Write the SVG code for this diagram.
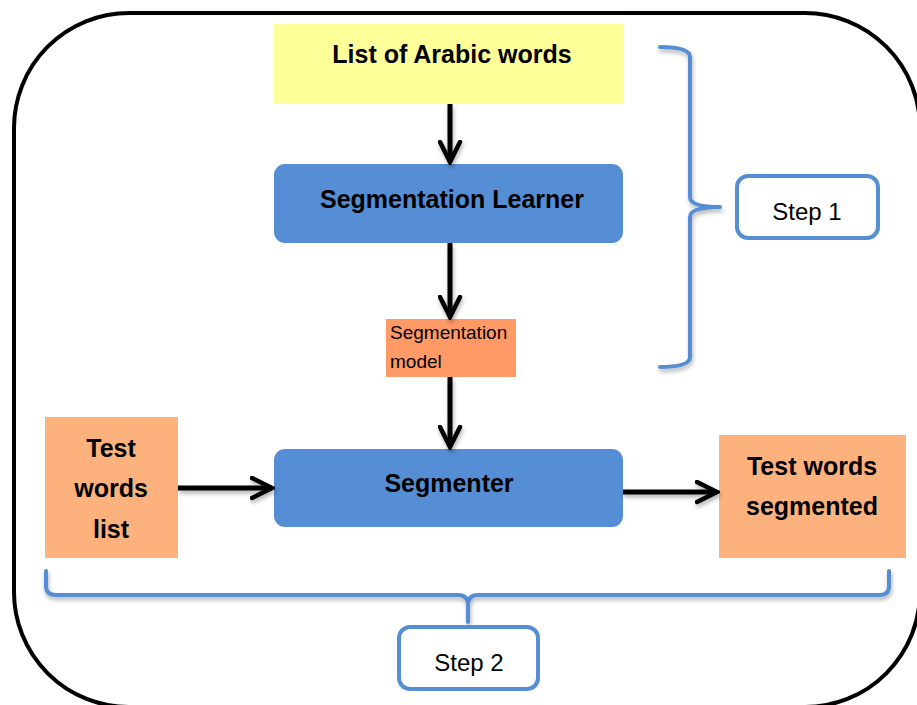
<svg xmlns="http://www.w3.org/2000/svg" width="917" height="705" viewBox="0 0 917 705">
<style>
.b{font-family:"Liberation Sans",Arial,sans-serif;font-weight:bold;font-size:25px;fill:#000}
.r{font-family:"Liberation Sans",Arial,sans-serif;font-size:19px;fill:#000}
.s{font-family:"Liberation Sans",Arial,sans-serif;font-size:24px;fill:#000}
.blue{fill:#558ED5}
.conn{stroke:#000;stroke-width:5;fill:none}
.brace{stroke:#558ED5;stroke-width:4;fill:none;stroke-linecap:round;stroke-linejoin:round}
.stepbox{fill:#fff;stroke:#558ED5;stroke-width:4}
</style>
<defs>
<filter id="sh" x="-20%" y="-20%" width="140%" height="140%">
<feDropShadow dx="1" dy="3" stdDeviation="2" flood-color="#000" flood-opacity="0.3"/>
</filter>
<marker id="ah" viewBox="0 0 10 10" refX="9" refY="5" markerWidth="5" markerHeight="5" markerUnits="strokeWidth" orient="auto">
<path d="M1,1 L9,5 L1,9" fill="none" stroke="#000" stroke-width="1.8" stroke-linecap="round" stroke-linejoin="miter"/>
</marker>
</defs>
<rect id="frame" x="14" y="13" width="906" height="694" rx="115" ry="115" fill="#fff" stroke="#000" stroke-width="4"/>
<g id="n_list">
<rect x="274" y="24" width="350" height="80" fill="#FFFF99"/>
<text class="b" x="452" y="63" text-anchor="middle">List of Arabic words</text>
</g>
<g id="n_learner">
<rect class="blue" x="274" y="164" width="349" height="79" rx="11"/>
<text class="b" x="452" y="208" text-anchor="middle">Segmentation Learner</text>
</g>
<g id="n_model">
<rect x="386" y="319" width="130" height="58" fill="#FF9966"/>
<text class="r" x="390" y="339">Segmentation</text>
<text class="r" x="390" y="368">model</text>
</g>
<g id="n_segmenter">
<rect class="blue" x="274" y="449" width="349" height="78" rx="11"/>
<text class="b" x="449" y="492" text-anchor="middle">Segmenter</text>
</g>
<g id="n_test">
<rect x="45" y="417" width="133" height="141" fill="#FDB27E"/>
<text class="b" x="111" y="457" text-anchor="middle">Test</text>
<text class="b" x="111" y="497" text-anchor="middle">words</text>
<text class="b" x="111" y="538" text-anchor="middle">list</text>
</g>
<g id="n_out">
<rect x="719" y="435" width="187" height="123" fill="#FDB27E"/>
<text class="b" x="812" y="475" text-anchor="middle">Test words</text>
<text class="b" x="812" y="515" text-anchor="middle">segmented</text>
</g>
<g id="n_step1">
<path class="brace" filter="url(#sh)" d="M660,47 Q690,47 690,57 L690,197 Q690,207 720,207 Q690,207 690,217 L690,357 Q690,367 660,367"/>
<rect class="stepbox" x="737" y="176" width="141" height="62" rx="11"/>
<text class="s" x="807" y="220" text-anchor="middle">Step 1</text>
</g>
<g id="n_step2">
<path class="brace" filter="url(#sh)" d="M46,571 L46,586 Q46,595 56,595 L458,595 Q468,595 468,605 L468,622 M468,605 Q468,595 478,595 L880,595 Q889,595 889,586 L889,571"/>
<rect class="stepbox" x="399" y="627" width="139" height="62" rx="11"/>
<text class="s" x="469" y="671" text-anchor="middle">Step 2</text>
</g>
<g id="connectors" filter="url(#sh)">
<line class="conn" x1="450" y1="104" x2="450" y2="162" marker-end="url(#ah)"/>
<line class="conn" x1="450" y1="243" x2="450" y2="317" marker-end="url(#ah)"/>
<line class="conn" x1="450" y1="377" x2="450" y2="447" marker-end="url(#ah)"/>
<line class="conn" x1="178" y1="488" x2="272" y2="488" marker-end="url(#ah)"/>
<line class="conn" x1="623" y1="492" x2="717" y2="492" marker-end="url(#ah)"/>
</g>
</svg>
